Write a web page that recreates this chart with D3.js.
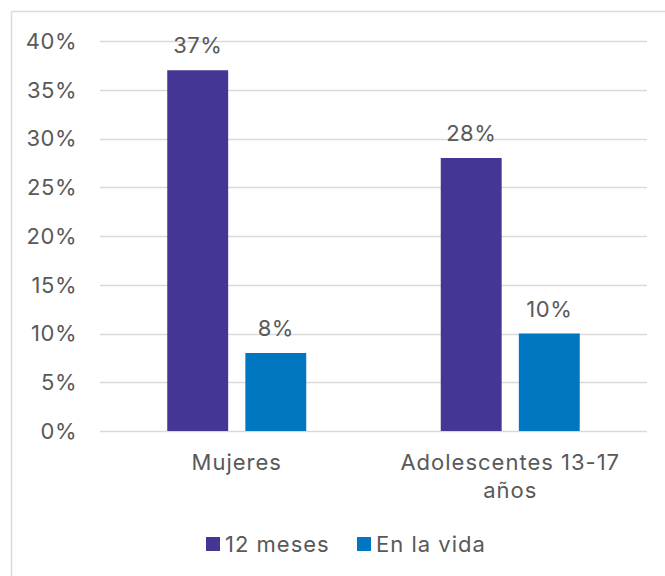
<!DOCTYPE html>
<html><head><meta charset="utf-8">
<script src="https://cdn.jsdelivr.net/npm/d3@7"></script>
<style>body{margin:0;background:#fff}svg{display:block}text{font-family:Inter,"Noto Sans",sans-serif;fill:#595959;letter-spacing:0.5px}text.lbl{letter-spacing:1px}</style>
</head><body>
<svg id="c" width="665" height="576"></svg>
<script>
const categories = ["Mujeres", "Adolescentes 13-17 años"];
const categoryLines = [["Mujeres"], ["Adolescentes 13-17", "años"]];
const seriesNames = ["12 meses", "En la vida"];
const values12meses = [37, 28];
const valuesEnLaVida = [8, 10];
const yTicks = [0, 5, 10, 15, 20, 25, 30, 35, 40];
const colors = ["#443694", "#0077c0"];

(function () {
const svg = d3.select("#c");
const W = 665, H = 576;
svg.append("line").attr("x1", 11.5).attr("x2", W).attr("y1", 11.5).attr("y2", 11.5).attr("stroke", "#d9d9d9").attr("stroke-width", 1.5);
svg.append("line").attr("x1", 11.5).attr("x2", 11.5).attr("y1", 11.5).attr("y2", H).attr("stroke", "#d9d9d9").attr("stroke-width", 1.5);

const pLeft = 100, pRight = 647, pTop = 41, pBottom = 431;
const y = d3.scaleLinear().domain([0, 40]).range([pBottom, pTop]);
const x0 = d3.scaleBand().domain(categories).range([pLeft, pRight]).paddingInner(0).paddingOuter(0);
const x1 = d3.scaleBand().domain(seriesNames).range([x0.bandwidth()/2 - 69.5, x0.bandwidth()/2 + 69.5]).paddingInner(0.22);

const fontSize = 22;
svg.append("g").selectAll("line").data(yTicks).join("line")
  .attr("x1", pLeft).attr("x2", pRight)
  .attr("y1", d => Math.round(y(d)) + 0.5).attr("y2", d => Math.round(y(d)) + 0.5)
  .attr("stroke", "#d9d9d9").attr("stroke-width", 1.5);
svg.append("g").selectAll("text").data(yTicks).join("text")
  .attr("x", 77).attr("y", d => y(d)).attr("dy", "0.36em")
  .attr("text-anchor", "end").attr("font-size", fontSize)
  .text(d => d + "%");

const data = categories.map((c, i) => ({cat: c, vals: [values12meses[i], valuesEnLaVida[i]]}));
const groups = svg.append("g").selectAll("g").data(data).join("g")
  .attr("transform", d => `translate(${x0(d.cat)},0)`);
groups.selectAll("rect").data(d => d.vals.map((v, j) => ({v, s: seriesNames[j], j}))).join("rect")
  .attr("x", d => x1(d.s)).attr("width", x1.bandwidth())
  .attr("y", d => y(d.v)).attr("height", d => y(0) - y(d.v))
  .attr("fill", d => colors[d.j]);
groups.selectAll("text.val").data(d => d.vals.map((v, j) => ({v, s: seriesNames[j]}))).join("text")
  .attr("class", "val")
  .attr("x", d => x1(d.s) + x1.bandwidth()/2).attr("y", d => y(d.v) - 17)
  .attr("text-anchor", "middle").attr("font-size", fontSize)
  .text(d => d.v + "%");

categories.forEach((c, i) => {
  const t = svg.append("text").attr("class", "lbl").attr("text-anchor", "middle").attr("font-size", fontSize)
    .attr("x", x0(c) + x0.bandwidth()/2).attr("y", 470);
  categoryLines[i].forEach((ln, k) => {
    t.append("tspan").attr("x", x0(c) + x0.bandwidth()/2).attr("y", 470 + k * 28).text(ln);
  });
});

const legendX = [206, 357];
seriesNames.forEach((s, j) => {
  svg.append("rect").attr("x", legendX[j]).attr("y", 537).attr("width", 14).attr("height", 14).attr("fill", colors[j]);
  svg.append("text").attr("class", "lbl").attr("x", legendX[j] + 19).attr("y", 551.5).attr("font-size", fontSize).text(s);
});
})();
</script>
</body></html>
